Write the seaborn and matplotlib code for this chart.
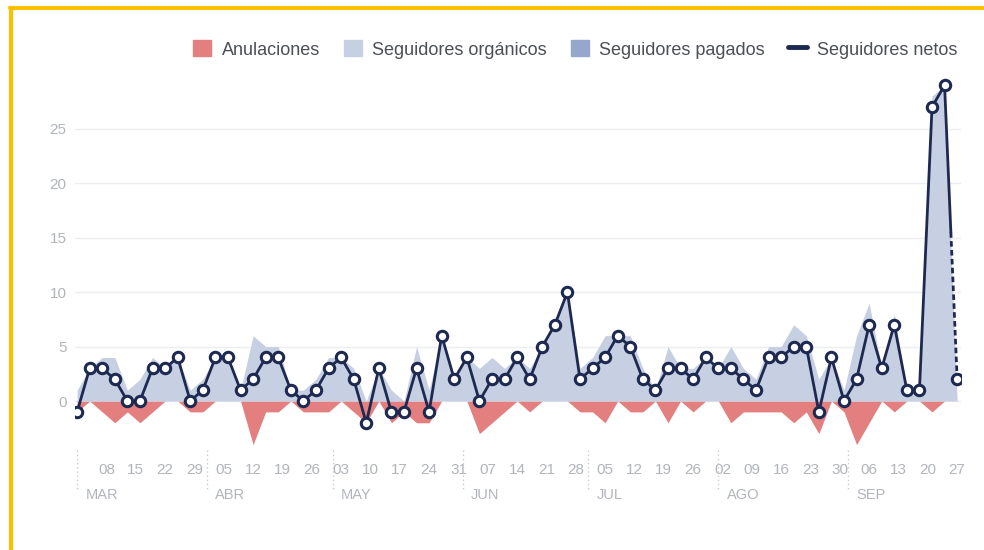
import matplotlib
matplotlib.use("Agg")
import matplotlib.pyplot as plt
import matplotlib.dates as mdates
import matplotlib.transforms as mtransforms
from matplotlib.patches import Patch
from matplotlib.lines import Line2D
import numpy as np
import pandas as pd
import seaborn as sns

sns.set_style("white")
plt.rcParams['font.family'] = ['Liberation Sans', 'DejaVu Sans']

# one point every 3 days, 1 Mar -> 27 Sep
fechas = pd.date_range("2021-03-01", periods=71, freq="3D")

netos = [-1, 3, 3, 2, 0, 0, 3, 3, 4, 0, 1, 4, 4, 1, 2, 4, 4, 1, 0, 1,
         3, 4, 2, -2, 3, -1, -1, 3, -1, 6, 2, 4, 0, 2, 2, 4, 2, 5, 7, 10,
         2, 3, 4, 6, 5, 2, 1, 3, 3, 2, 4, 3, 3, 2, 1, 4, 4, 5, 5, -1,
         4, 0, 2, 7, 3, 7, 1, 1, 27, 29, 2]

anulaciones = [1, 0, 1, 2, 1, 2, 1, 0, 0, 1, 1, 0, 0, 0, 4, 1, 1, 0, 1, 1,
               1, 0, 1, 2, 0, 2, 1, 2, 2, 0, 0, 0, 3, 2, 1, 0, 1, 0, 0, 0,
               1, 1, 2, 0, 1, 1, 0, 2, 0, 1, 0, 0, 2, 1, 1, 1, 1, 2, 1, 3,
               0, 1, 4, 2, 0, 1, 0, 0, 1, 0, 0]

organicos = [1, 3, 4, 4, 1, 2, 4, 3, 4, 1, 2, 4, 4, 1, 6, 5, 5, 1, 1, 2,
             4, 4, 3, 0, 3, 1, 0, 5, 1, 6, 2, 4, 3, 4, 3, 4, 3, 5, 7, 10,
             3, 4, 6, 6, 6, 3, 1, 5, 3, 3, 4, 3, 5, 3, 2, 5, 5, 7, 6, 2,
             4, 1, 6, 9, 3, 8, 1, 1, 28, 29, 0]

pagados = [0, 0, 0, 0, 0, 0, 0, 0, 0, 0, 0, 0, 0, 0, 0, 0, 0, 0, 0, 0,
           0, 0, 0, 0, 0, 0, 0, 0, 0, 0, 0, 0, 0, 0, 0, 0, 0, 0, 0, 0,
           0, 0, 0, 0, 0, 0, 0, 0, 0, 0, 0, 0, 0, 0, 0, 0, 0, 0, 0, 0,
           0, 0, 0, 0, 0, 0, 0, 0, 0, 0, 0]

semanas = pd.date_range("2021-03-08", "2021-09-27", freq="7D")
meses = pd.date_range("2021-03-01", "2021-09-01", freq="MS")
nombres_meses = ["MAR", "ABR", "MAY", "JUN", "JUL", "AGO", "SEP"]

series = ["Anulaciones", "Seguidores orgánicos", "Seguidores pagados",
          "Seguidores netos"]

ROJO = "#e47f80"
ORG = "#c7d0e2"
PAG = "#97a7cb"
NAVY = "#1d2951"
GRIS = "#b1b5bb"

fig = plt.figure(figsize=(9.84, 5.5), dpi=100)
ax = fig.add_axes([75 / 984, 1 - 450 / 550, (961 - 75) / 984, 380 / 550])

# areas
org = np.array(organicos)
ax.fill_between(fechas, 0, -np.array(anulaciones), color=ROJO, lw=0, zorder=2)
ax.fill_between(fechas, 0, org, color=ORG, lw=0, zorder=2)
ax.fill_between(fechas, org, org + np.array(pagados), color=PAG, lw=0, zorder=2)

# net followers line (last period is incomplete -> dashed half)
df = pd.DataFrame({"fecha": fechas[:-1], "netos": netos[:-1]})
sns.lineplot(data=df, x="fecha", y="netos", ax=ax, color=NAVY, lw=2.0,
             marker="o", ms=7.5, markerfacecolor="white", markeredgecolor=NAVY,
             markeredgewidth=2.2, zorder=5)
t_mid = fechas[-2] + (fechas[-1] - fechas[-2]) / 2
y_mid = (netos[-2] + netos[-1]) / 2
ax.plot([fechas[-2], t_mid], [netos[-2], y_mid], color=NAVY, lw=2.0, zorder=4)
ax.plot([t_mid, fechas[-1]], [y_mid, netos[-1]], color=NAVY, lw=2.0,
        dashes=(2, 1.2), zorder=4)
ax.plot([fechas[-1]], [netos[-1]], marker="o", ms=7.5, mfc="white", mec=NAVY,
        mew=2.2, ls="none", zorder=6)

# axes
ax.set_ylim(-4.5, 30.4)
ax.set_xlim(fechas[0] - pd.Timedelta(hours=12), fechas[-1] + pd.Timedelta(hours=22))
ax.set_yticks([0, 5, 10, 15, 20, 25])
ax.yaxis.grid(True, color="#eceef1", lw=1, zorder=0)
ax.set_xticks(semanas)
ax.xaxis.set_major_formatter(mdates.DateFormatter("%d"))
ax.tick_params(axis="y", length=0, pad=6, labelsize=11, labelcolor=GRIS)
ax.tick_params(axis="x", length=3, width=1, color="#d3d6db", pad=6,
               labelsize=11, labelcolor=GRIS)
ax.set_xlabel("")
ax.set_ylabel("")
sns.despine(ax=ax, left=True, bottom=True)

# month separators and names
trans = mtransforms.blended_transform_factory(ax.transData, ax.transAxes)
for m, nombre in zip(meses, nombres_meses):
    ax.plot([m, m], [0.0, -0.105], transform=trans, ls=(0, (1, 2)),
            color="#c9cdd3", lw=1, clip_on=False)
    ax.text(m + pd.Timedelta(days=2), -0.118, nombre, transform=trans,
            ha="left", va="center", fontsize=10.5, color=GRIS)

# legend
handles = [Patch(color=ROJO), Patch(color=ORG), Patch(color=PAG),
           Line2D([0], [0], color=NAVY, lw=3.5)]
fig.legend(handles, series, loc="upper right",
           bbox_to_anchor=(974 / 984, 1 - 24 / 550), ncol=4, frameon=False,
           fontsize=13, handlelength=1.0, handleheight=1.0,
           handletextpad=0.6, columnspacing=1.3, labelcolor="#4b4f56")

# yellow frame of the screenshot
fig.add_artist(Line2D([10 / 984, 1], [1 - 8 / 550, 1 - 8 / 550],
                      transform=fig.transFigure, color="#fcbf00", lw=3))
fig.add_artist(Line2D([11 / 984, 11 / 984], [0, 1 - 8 / 550],
                      transform=fig.transFigure, color="#fcbf00", lw=3))

fig.savefig("out.png", dpi=100)
